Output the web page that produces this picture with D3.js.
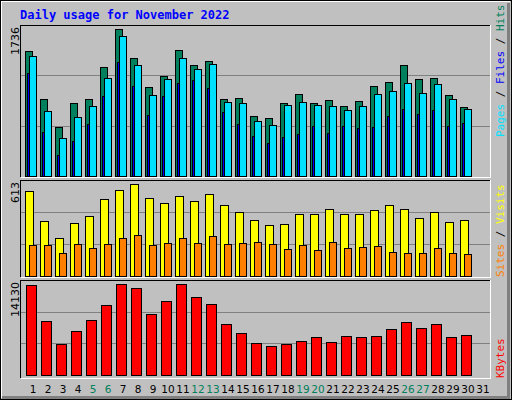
<!DOCTYPE html>
<html><head><meta charset="utf-8">
<script src="https://cdn.jsdelivr.net/npm/d3@7"></script>
<style>body{margin:0;background:#fff}svg{display:block}</style>
</head><body>
<script>
const days = d3.range(1, 32);
const weekendDays = [5,6,12,13,19,20,26,27];
const hits  = [1479,912,581,864,912,1290,1736,1396,1053,1183,1490,1313,1360,912,923,711,687,864,971,864,900,829,888,1065,1112,1313,1148,1160,959,817];
const files = [1420,770,451,699,829,1160,1656,1313,959,1148,1396,1266,1325,876,864,652,605,841,876,841,829,782,829,971,1006,1101,983,1089,912,794];
const pages = [1222,522,250,416,616,947,1349,1065,723,947,1101,1136,1042,758,616,475,392,463,498,593,510,593,569,581,711,794,734,782,593,628];
const visits= [566,366,253,353,400,513,573,613,520,486,533,500,546,473,426,373,340,346,413,413,446,413,413,440,473,446,386,426,360,373];
const sites = [207,207,153,213,187,213,253,273,207,220,253,220,266,213,220,227,213,180,207,173,227,187,193,200,160,153,153,187,153,147];
const kbytes= [13975,8406,4848,6859,8561,10881,14130,13511,9489,11500,14130,12119,11036,7942,6549,5002,4538,4848,5312,5931,5157,6085,5931,6085,7168,8251,7323,7942,5931,6240];
const maxLabels = ["1736","613","14130"];

const svg = d3.select("body").append("svg").attr("width",512).attr("height",400)
  .attr("shape-rendering","crispEdges");
// background + bevel
svg.append("rect").attr("x",0).attr("y",0).attr("width",512).attr("height",400).attr("fill","#C0C0C0");
svg.append("rect").attr("x",0.5).attr("y",0.5).attr("width",511).attr("height",399).attr("fill","none").attr("stroke","#000");
svg.append("path").attr("d","M1.5,398V1.5H510").attr("stroke","#fff").attr("fill","none");
svg.append("path").attr("d","M2,397.5H508.5V3").attr("stroke","#808080").attr("stroke-width",3).attr("fill","none");

svg.append("text").attr("x",20).attr("y",19).text("Daily usage for November 2022")
  .attr("font-family","DejaVu Sans Mono").attr("font-weight","bold").attr("font-size",12).attr("fill","#0000FF");

const x = d3.scaleLinear().domain([1,2]).range([25,40]);

function panel(top, bottom, base, maxTop, maxV, label) {
  svg.append("path").attr("d",`M20.5,${bottom}V${top}.5H490`).attr("stroke","#000").attr("fill","none");
  svg.append("path").attr("d",`M20.5,${bottom}.5H490.5V${top}`).attr("stroke","#fff").attr("fill","none");
  const y = d3.scaleLinear().domain([0,maxV]).range([base,maxTop]);
  const g1 = (base - top)/3;
  [1,2].forEach(i=>{
    svg.append("line").attr("x1",21).attr("x2",490).attr("y1",Math.round(top+g1*i)+0.5).attr("y2",Math.round(top+g1*i)+0.5)
      .attr("stroke","#808080");
  });
  svg.append("text").attr("transform",`translate(19,${top+2}) rotate(-90)`).attr("text-anchor","end")
    .attr("font-family","DejaVu Sans").attr("font-size",11).attr("fill","#000").text(label);
  return y;
}
function bars(data, y, base, dx, w, color) {
  svg.append("g").selectAll("rect").data(data).join("rect")
    .attr("x",(d,i)=>Math.round(x(i+1))+dx+0.5).attr("width",w)
    .attr("y",d=>Math.round(y(d))+0.5).attr("height",d=>base-Math.round(y(d)))
    .attr("fill",color).attr("stroke","#000");
}
const y1 = panel(25,177,176,29,1736,maxLabels[0]);
bars(hits,y1,176,0,7,"#00805C");
bars(pages,y1,176,2,2,"#0000FF");
bars(files,y1,176,4,7,"#00E0FF");
const y2 = panel(180,277,276,184,613,maxLabels[1]);
bars(visits,y2,276,0,8,"#FFFF00");
bars(sites,y2,276,4,7,"#FF8000");
const y3 = panel(280,378,375,284,14130,maxLabels[2]);
bars(kbytes,y3,375,1,10,"#FF0000");

// right legends
function rlabel(yEnd, parts) {
  const t = svg.append("text").attr("transform",`translate(504,${yEnd}) rotate(-90)`)
    .attr("font-family","DejaVu Sans Mono").attr("font-size",11);
  parts.forEach(([s,c])=>t.append("tspan").attr("fill",c).text(s));
}
rlabel(137,[["Pages","#00E0FF"],[" / ","#000"],["Files","#0000FF"],[" / ","#000"],["Hits","#00805C"]]);
rlabel(277,[["Sites","#FF8000"],[" / ","#000"],["Visits","#FFFF00"]]);
rlabel(378,[["KBytes","#FF0000"]]);

svg.append("g").selectAll("text").data(days).join("text")
  .attr("x",d=>x(d)+8).attr("y",393).attr("text-anchor","middle")
  .attr("font-family","DejaVu Sans").attr("font-size",10.5)
  .attr("fill",d=>weekendDays.includes(d)?"#00805C":"#000").text(d=>d);
</script>
</body></html>
